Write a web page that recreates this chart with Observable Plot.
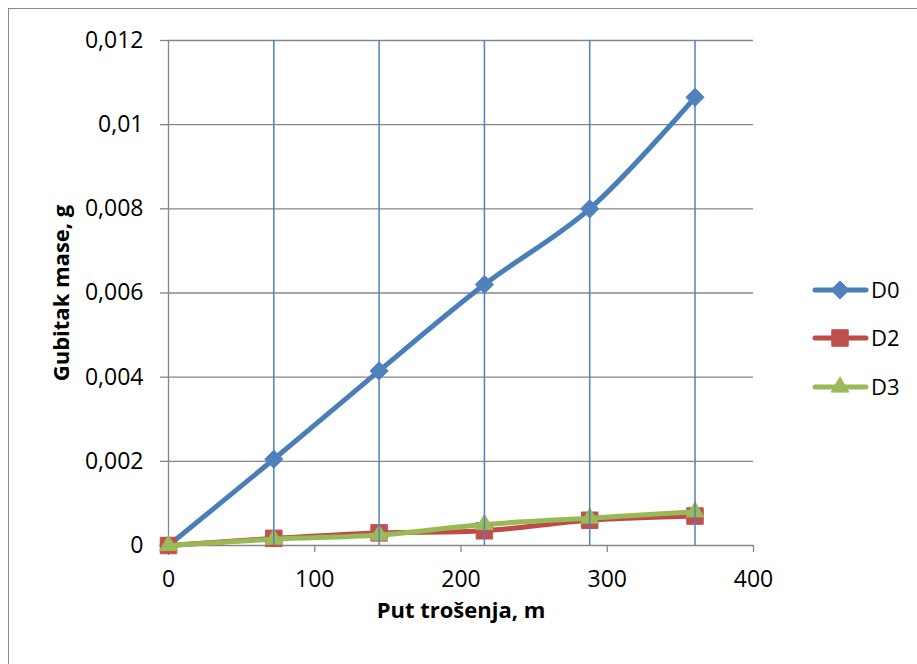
<!DOCTYPE html>
<html><head><meta charset="utf-8">
<script src="https://cdn.jsdelivr.net/npm/d3@7"></script>
<script src="https://cdn.jsdelivr.net/npm/@observablehq/plot@0.6"></script>
<style>
html,body{margin:0;padding:0;background:#fff;overflow:hidden;width:917px;height:664px;}
#wrap{position:relative;width:917px;height:664px;overflow:hidden;}
#chart{position:absolute;left:0;top:0;}
#border{position:absolute;left:8px;top:8px;width:1000px;height:1000px;border:1.5px solid #8c8c8c;z-index:2;}
#legend{position:absolute;left:0;top:0;z-index:3;}
</style></head><body>
<div id="wrap"><div id="chart"></div><div id="border"></div><svg id="legend" width="917" height="664"></svg></div>
<script>
// ---- data ----
const distance = [0, 72, 144, 216, 288, 360];
const D0 = [0, 0.00205, 0.00415, 0.0062, 0.008, 0.01065];
const D2 = [0, 0.00017, 0.0003, 0.00035, 0.0006, 0.0007];
const D3 = [0, 0.00015, 0.00025, 0.0005, 0.00065, 0.0008];
const seriesNames = ["D0", "D2", "D3"];
const xTicks = [0, 100, 200, 300, 400];
const yTicks = [0, 0.002, 0.004, 0.006, 0.008, 0.01, 0.012];
const xTitle = "Put trošenja, m";
const yTitle = "Gubitak mase, g";

const seriesValues = {D0, D2, D3};
const lineColors = {D0: "#4A7EBB", D2: "#BE4B48", D3: "#98B954"};
const markColors = {D0: "#4F81BD", D2: "#C0504D", D3: "#9BBB59"};
const symbols = {D0: "diamond2", D2: "square2", D3: "triangle2"};
const symbolR = {D0: 8.2, D2: 10.5, D3: 8.4};

const rows = seriesNames.map(s => distance.map((x, i) => ({series: s, x, y: seriesValues[s][i]})));

const fmt = d => d === 0 ? "0" : String(+d.toFixed(4)).replace(".", ",");
const grid = "#868686";

const seriesMarks = [];
seriesNames.forEach((s, k) => {
  seriesMarks.push(Plot.line(rows[k], {x: "x", y: "y", stroke: lineColors[s], strokeWidth: 5, curve: "catmull-rom", strokeLinecap: "round", strokeLinejoin: "round"}));
  seriesMarks.push(Plot.dot(rows[k], {x: "x", y: "y", symbol: () => symbols[s], r: symbolR[s], fill: markColors[s], stroke: markColors[s], strokeWidth: 1}));
});

const chart = Plot.plot({
  width: 917, height: 664,
  marginLeft: 168, marginRight: 164, marginTop: 40, marginBottom: 119,
  style: {fontFamily: "'Open Sans', sans-serif", fontSize: "23px", background: "transparent", color: "#000"},
  x: {domain: [0, 400], label: null},
  y: {domain: [0, 0.012], label: null},
  symbol: {type: "identity"},
  marks: [
    Plot.ruleY(yTicks, {stroke: grid, strokeWidth: 1.3}),
    Plot.ruleX([0], {stroke: grid, strokeWidth: 1.3}),
    Plot.axisY({ticks: yTicks, tickSize: 8, tickPadding: 17, tickFormat: fmt, stroke: grid, fill: "#000", strokeWidth: 1.3, label: null}),
    Plot.axisX({ticks: xTicks, tickSize: 7, tickPadding: 18, tickFormat: d => String(d), stroke: grid, fill: "#000", strokeWidth: 1.3, label: null}),
    ...seriesMarks,
    Plot.ruleX(distance.slice(1), {y1: yTicks[0], y2: yTicks[yTicks.length - 1], stroke: "#4F81BD", strokeWidth: 1.5}),
    Plot.text([yTitle], {frameAnchor: "left", textAnchor: "middle", lineAnchor: "middle", dx: -107, rotate: -90, fontWeight: "bold", fontSize: 22, fill: "#000"}),
    Plot.text([xTitle], {frameAnchor: "bottom", textAnchor: "middle", lineAnchor: "middle", dy: 65, fontWeight: "bold", fontSize: 22, fill: "#000"})
  ]
});
document.getElementById("chart").appendChild(chart);

// ---- legend ----
const leg = d3.select("#legend");
const legendY = [290, 338, 387];
const d3sym = {D0: d3.symbolDiamond2, D2: d3.symbolSquare2, D3: d3.symbolTriangle2};
seriesNames.forEach((s, i) => {
  const g = leg.append("g").attr("transform", `translate(0,${legendY[i]})`);
  g.append("line").attr("x1", 815).attr("x2", 866).attr("y1", 0).attr("y2", 0)
    .attr("stroke", lineColors[s]).attr("stroke-width", 5).attr("stroke-linecap", "round");
  g.append("path").attr("transform", "translate(840,0)")
    .attr("d", d3.symbol(d3sym[s], Math.PI * symbolR[s] * symbolR[s])())
    .attr("fill", markColors[s]).attr("stroke", markColors[s]);
  g.append("text").attr("x", 871).attr("y", 0).attr("dy", "0.35em")
    .attr("font-family", "'Open Sans', sans-serif").attr("font-size", 22).attr("fill", "#000").text(s);
});
</script>
</body></html>
